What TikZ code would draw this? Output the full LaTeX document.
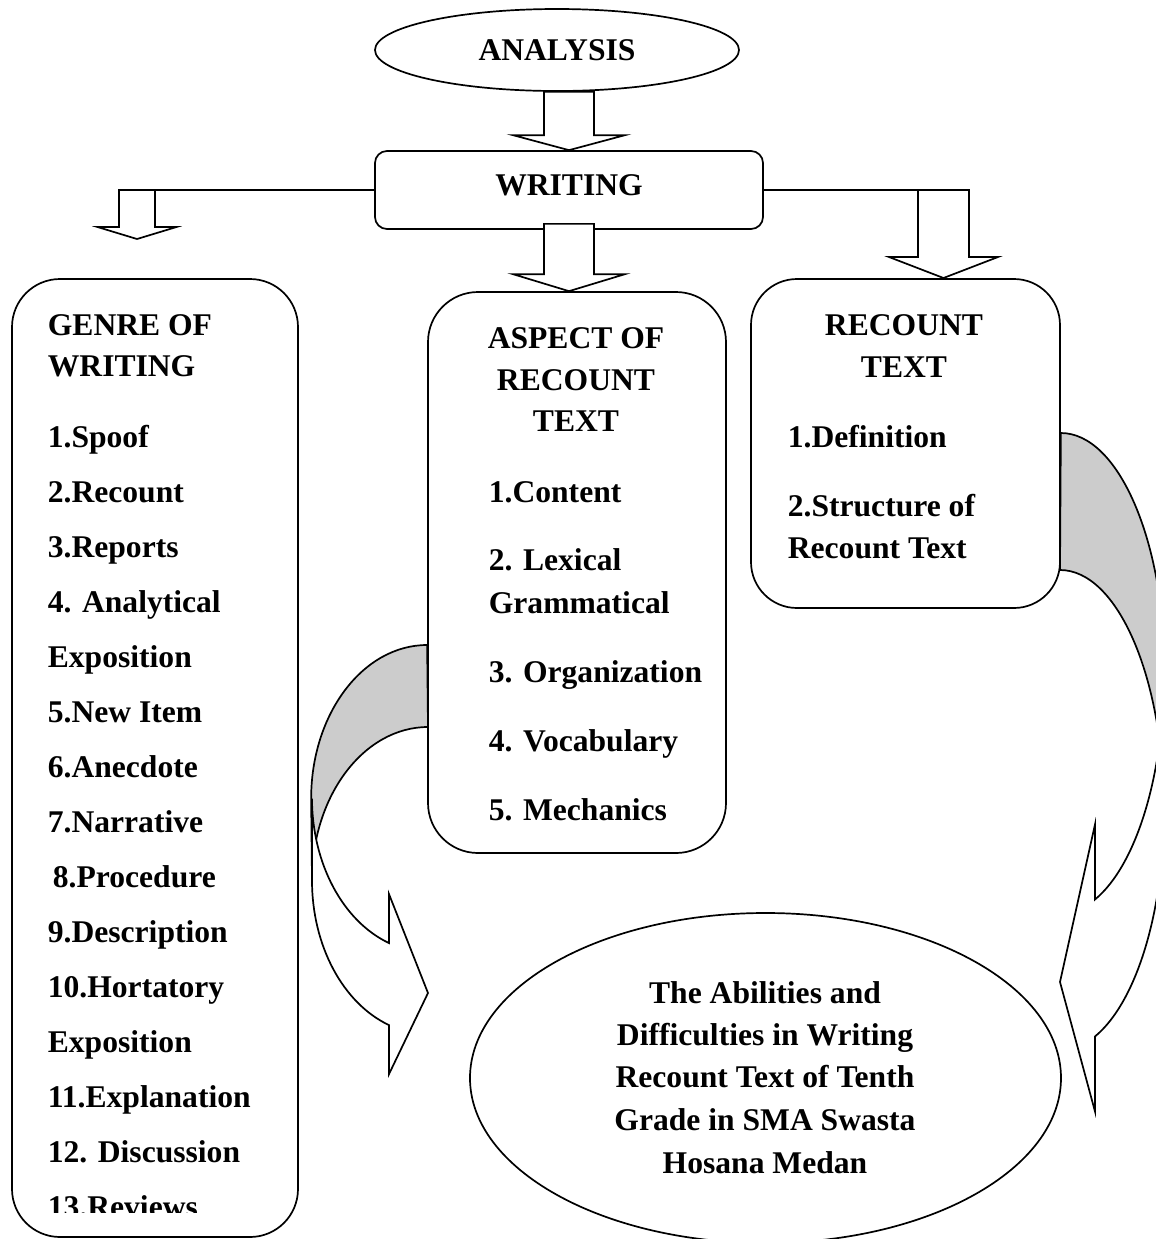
\documentclass[tikz,border=0pt]{standalone}
\usepackage{fontspec}
\setmainfont{Liberation Serif}
\usetikzlibrary{shapes.geometric,calc}
\definecolor{shadegray}{HTML}{CCCCCC}
\newcommand\blockarrow[5]{% #1 start coord, #2 tip coord, #3 head length, #4 shaft half width, #5 head half width
  \draw[blk] ($(#1)+(-#4,0)$) -- ($(#2)+(-#4,-#3)$) -- ($(#2)+(-#5,-#3)$) -- (#2)
    -- ($(#2)+(#5,-#3)$) -- ($(#2)+(#4,-#3)$) -- ($(#1)+(#4,0)$) -- cycle;}
\begin{document}
\begin{tikzpicture}[x=0.5pt,y=-0.5pt,
  line width=0.85pt,
  txt/.style={font=\fontsize{15.8}{19}\selectfont\bfseries, inner sep=0pt},
  lbl/.style={txt, anchor=base west},
  ctr/.style={txt, anchor=base},
  rbox/.style={draw, fill=white, rounded corners=#1, inner sep=0pt},
  oval/.style={draw, fill=white, ellipse, inner sep=0pt},
  blk/.style={draw, fill=white, line join=miter},
  curvebody/.style={draw, fill=white, line join=miter},
  curveback/.style={draw, fill=shadegray}]
\useasboundingbox (0,0) rectangle (1156,1239);
\clip (0,0) rectangle (1156,1239);

% ---- shapes ----
\node[oval, minimum width=182pt, minimum height=41pt] (analysis) at (557,50) {};
\node[rbox=6pt, minimum width=194pt, minimum height=39pt] (writing) at (569,190) {};
\node[rbox=24pt, minimum width=143pt, minimum height=479pt] (genre) at (155,758) {};
\node[rbox=25pt, minimum width=149pt, minimum height=280.5pt] (aspect) at (577,572.5) {};
\node[rbox=23pt, minimum width=154.5pt, minimum height=164.5pt] (recount) at (905.5,443.5) {};
\node[oval, minimum width=295.5pt, minimum height=165pt] (goal) at (765.5,1078) {};

% ---- branch lines from WRITING ----
\coordinate (ltip) at (137,239);
\coordinate (rtip) at (943.5,278);
\coordinate (lstart) at (ltip |- writing.west);
\coordinate (rstart) at (rtip |- writing.east);
\draw (writing.west) -- (lstart);
\draw (writing.east) -- (rstart);

% ---- block arrows ----
\coordinate (a1start) at (writing.north |- analysis.south);
\coordinate (a2start) at ($(writing.south)+(0,-6)$);
\coordinate (a2tip) at (aspect.north -| writing.south);
\blockarrow{a1start}{writing.north}{15}{25}{56}
\blockarrow{a2start}{a2tip}{17}{25}{56}
\blockarrow{lstart}{ltip}{12}{18}{39.5}
\blockarrow{rstart}{rtip}{21}{25.5}{54.5}

% ---- curved arrow from ASPECT (left) ----
\draw[curveback] ($(aspect.west)+(0,72.5)$)
  arc[start angle=-90, end angle=-180, x radius=116, y radius=153.5]
  -- (312,880.5)
  arc[start angle=180, end angle=270, x radius=116, y radius=153.5] -- cycle;
\draw[curvebody] (312,798.5)
  arc[start angle=180, end angle=109.65, x radius=116, y radius=153.5]
  -- (389,894.1) -- (428,993) -- (389,1074.1) -- (389,1025.1)
  arc[start angle=109.65, end angle=180, x radius=116, y radius=153.5] -- cycle;

% ---- curved arrow from RECOUNT (right) ----
\draw[curveback] ($(recount.east)+(0,-10.5)$)
  arc[start angle=-90, end angle=0, x radius=104, y radius=240.25]
  -- (1164,810.25)
  arc[start angle=0, end angle=-90, x radius=104, y radius=240.25] -- cycle;
\draw[curvebody] (1164,673.25)
  arc[start angle=0, end angle=70.35, x radius=104, y radius=240.25]
  -- (1095,824.5) -- (1060,982) -- (1095,1111.5) -- (1095,1036.45)
  arc[start angle=70.35, end angle=0, x radius=104, y radius=240.25] -- cycle;

% ---- texts ----
\node[ctr] (tanalysis) at (557,60.5) {ANALYSIS};
\node[ctr] (twriting) at (569,195.5) {WRITING};

\begin{scope}
\clip (12,279) rectangle (298,1212);
\foreach \n/\yy/\t in {g1/335/GENRE OF, g2/376/WRITING, g3/447/1.Spoof, g4/502/2.Recount,
  g5/557/3.Reports, g6/612/4. Analytical, g7/667/Exposition, g8/722/5.New Item,
  g9/777/6.Anecdote, g10/832/7.Narrative, g11/887/\hspace{2.5pt}8.Procedure,
  g12/942/9.Description, g13/997/10.Hortatory, g14/1052/Exposition,
  g15/1107/11.Explanation, g16/1162/12. Discussion, g17/1217/13.Reviews}
  \node[lbl] (\n) at (47,\yy) {\t};
\end{scope}

\foreach \n/\yy/\t in {a1/348/ASPECT OF, a2/390/RECOUNT, a3/431/TEXT}
  \node[ctr] (\n) at (576,\yy) {\t};
\foreach \n/\yy/\t in {a4/502/1.Content, a5/570/2. Lexical, a6/613/Grammatical,
  a7/682/3. Organization, a8/751/4. Vocabulary, a9/820/5. Mechanics}
  \node[lbl] (\n) at (488,\yy) {\t};

\foreach \n/\yy/\t in {r1/335/RECOUNT, r2/377/TEXT}
  \node[ctr] (\n) at (904,\yy) {\t};
\foreach \n/\yy/\t in {r3/447/1.Definition, r4/516/2.Structure of, r5/558/Recount Text}
  \node[lbl] (\n) at (787,\yy) {\t};

\foreach \n/\yy/\t in {o1/1003/The Abilities and, o2/1045/Difficulties in Writing,
  o3/1087/Recount Text of Tenth, o4/1130/Grade in SMA Swasta, o5/1173/Hosana Medan}
  \node[ctr] (\n) at (765,\yy) {\t};
\end{tikzpicture}
\end{document}
